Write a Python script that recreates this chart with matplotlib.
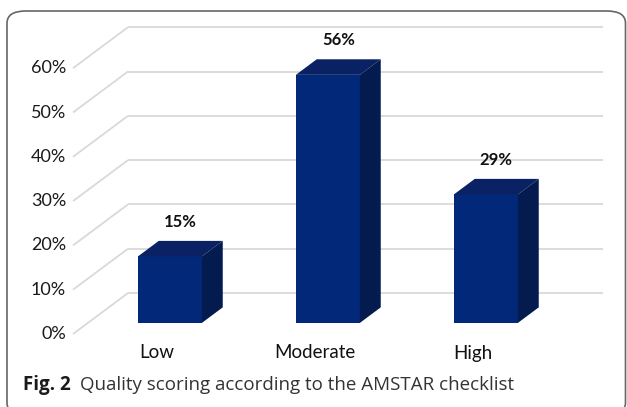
import matplotlib
matplotlib.use("Agg")
import matplotlib.pyplot as plt
from matplotlib.patches import Polygon, FancyBboxPatch

# ---- data ----
categories = ["Low", "Moderate", "High"]
values = [15, 56, 29]
value_labels = ["15%", "56%", "29%"]
yticks = [0, 10, 20, 30, 40, 50, 60]
ytick_labels = ["0%", "10%", "20%", "30%", "40%", "50%", "60%"]
caption_bold = "Fig. 2"
caption_text = "Quality scoring according to the AMSTAR checklist"

W, H = 627, 407
fig = plt.figure(figsize=(W / 100, H / 100), dpi=100)

# axes geometry (pixels)
px_left, px_right, px_top, px_bot = 60, 620, 15, 345
ax = fig.add_axes([px_left / W, 1 - px_bot / H, (px_right - px_left) / W, (px_bot - px_top) / H])
x0_px, xstep_px = 155.0, 158.0      # category 0 at front plane, spacing
y0_px, ystep_px = 334.0, 4.43       # 0% at front plane, px per %
ax.set_xlim((px_left - x0_px) / xstep_px, (px_right - x0_px) / xstep_px)
ax.set_ylim((y0_px - px_bot) / ystep_px, (y0_px - px_top) / ystep_px)
ax.axis("off")

# depth vector (data units)
ddx = 55.0 / xstep_px
ddy = 41.0 / ystep_px
grid_front_x = (73 - x0_px) / xstep_px
grid_right_x = (603 - x0_px) / xstep_px
gcol = "#d9d9d9"
for v in yticks:
    ax.plot([grid_front_x, grid_front_x + ddx], [v, v + ddy], color=gcol, lw=1.3, zorder=1,
            solid_capstyle="butt")
    ax.plot([grid_front_x + ddx, grid_right_x], [v + ddy, v + ddy], color=gcol, lw=1.3, zorder=1,
            solid_capstyle="butt")

font_main = ["Lato", "DejaVu Sans"]
for v, lab in zip(yticks, ytick_labels):
    ax.text(grid_front_x - 7 / xstep_px, v, lab, ha="right", va="center", fontsize=13,
            color="#1a1a1a", family=font_main)

# bars
f0, f1 = 0.27, 0.65
bw = 64.0 / xstep_px
c_front, c_top, c_side = "#02287a", "#0a2264", "#031b4f"
for i, (cat, val, vl) in enumerate(zip(categories, values, value_labels)):
    xl = i - bw / 2 + f0 * ddx
    xr = xl + bw
    yb = f0 * ddy
    yt = yb + val
    d = (f1 - f0)
    sx, sy = d * ddx, d * ddy
    ax.add_patch(Polygon([(xl, yb), (xr, yb), (xr, yt), (xl, yt)], closed=True,
                         facecolor=c_front, edgecolor="none", zorder=3))
    ax.add_patch(Polygon([(xl, yt), (xr, yt), (xr + sx, yt + sy), (xl + sx, yt + sy)], closed=True,
                         facecolor=c_top, edgecolor="none", zorder=3))
    ax.add_patch(Polygon([(xr, yb), (xr + sx, yb + sy), (xr + sx, yt + sy), (xr, yt)], closed=True,
                         facecolor=c_side, edgecolor="none", zorder=3))
    ax.text(i + f0 * ddx + sx / 2, yt + sy + 19 / ystep_px, vl, ha="center", va="center",
            fontsize=12, fontweight="bold", color="#111111", family=font_main, zorder=4)
    ax.text(i + 2 / xstep_px, -19 / ystep_px, cat, ha="center", va="center", fontsize=13.5,
            color="#111111", family=font_main)

# caption
cap_font = ["Open Sans", "DejaVu Sans"]
t1 = fig.text(23 / W, 1 - 385 / H, caption_bold, ha="left", va="center", fontsize=13.5,
              fontweight="bold", color="#1a1a1a", family=cap_font)
fig.canvas.draw()
bb = t1.get_window_extent()
fig.text((bb.x1 + 9) / W, 1 - 385 / H, caption_text, ha="left", va="center", fontsize=13.5,
         color="#333333", family=cap_font)

# rounded border
border = FancyBboxPatch((7 / W, 1 - 415 / H), (625.5 - 7) / W, (415 - 11) / H,
                        boxstyle="round,pad=0,rounding_size=0.03", transform=fig.transFigure,
                        facecolor="none", edgecolor="#666666", lw=1.2, clip_on=False)
fig.patches.append(border)

fig.savefig("out.png", dpi=100)
